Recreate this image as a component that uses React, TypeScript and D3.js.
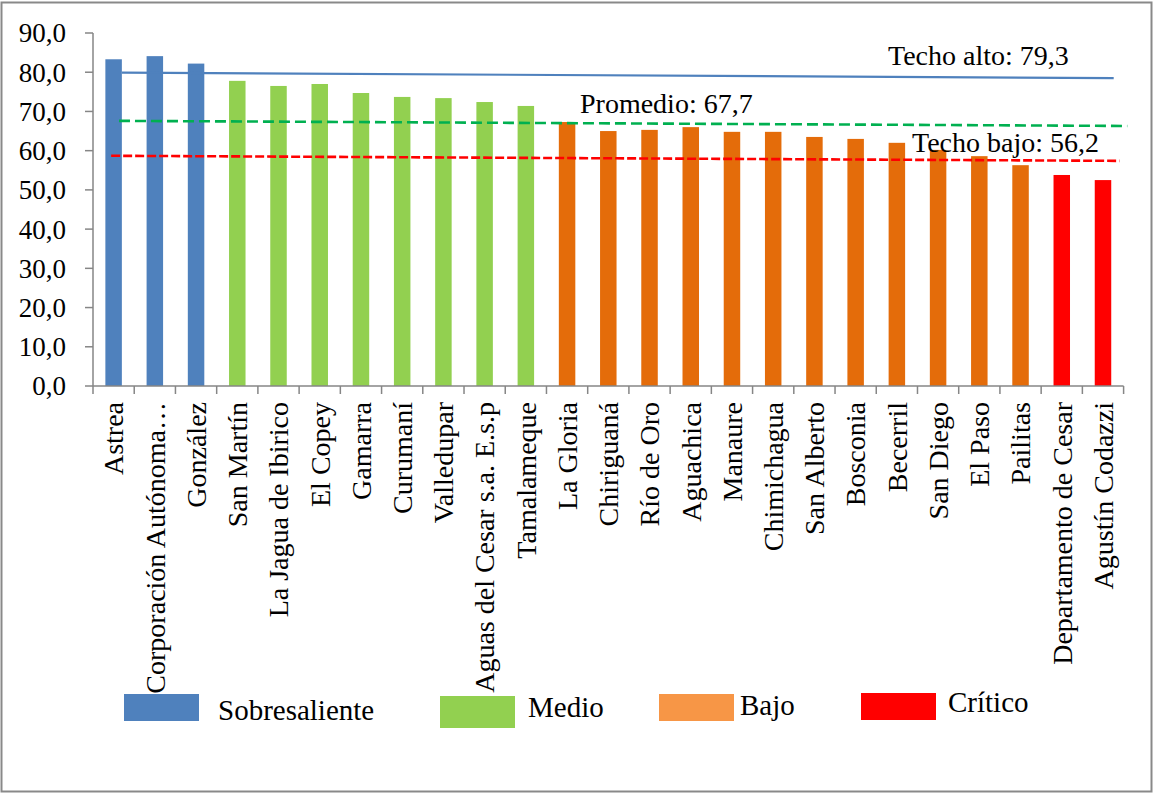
import React from "react";
import * as d3 from "d3";

const categories = [
  "Astrea", "Corporación Autónoma…", "González", "San Martín", "La Jagua de Ibirico",
  "El Copey", "Gamarra", "Curumaní", "Valledupar", "Aguas del Cesar s.a. E.s.p",
  "Tamalameque", "La Gloria", "Chiriguaná", "Río de Oro", "Aguachica", "Manaure",
  "Chimichagua", "San Alberto", "Bosconia", "Becerril", "San Diego", "El Paso",
  "Pailitas", "Departamento de Cesar", "Agustín Codazzi",
];
const values = [
  83.3, 84.1, 82.2, 77.8, 76.5, 77.0, 74.7, 73.7, 73.4, 72.4, 71.4, 67.3, 65.0,
  65.3, 66.0, 64.8, 64.8, 63.5, 63.0, 62.0, 60.2, 58.6, 56.3, 53.8, 52.5,
];
const levels = [
  "Sobresaliente", "Sobresaliente", "Sobresaliente",
  "Medio", "Medio", "Medio", "Medio", "Medio", "Medio", "Medio", "Medio",
  "Bajo", "Bajo", "Bajo", "Bajo", "Bajo", "Bajo", "Bajo", "Bajo", "Bajo", "Bajo", "Bajo", "Bajo",
  "Crítico", "Crítico",
];
const legendNames = ["Sobresaliente", "Medio", "Bajo", "Crítico"];
const barColors = ["#4F81BD", "#92D050", "#E46C0A", "#FF0000"];
const legendColors = ["#4F81BD", "#92D050", "#F79646", "#FF0000"];
const yTicks = [0, 10, 20, 30, 40, 50, 60, 70, 80, 90];

// reference lines: [start index, end index] and [start value, end value]
const refLabels = ["Techo alto: 79,3", "Promedio: 67,7", "Techo bajo: 56,2"];
const refStartIdx = [0.2, 0.13, -0.06];
const refEndIdx = [24.26, 24.59, 24.4];
const refStartVal = [79.9, 67.6, 58.7];
const refEndVal = [78.5, 66.3, 57.4];
const refColors = ["#4F81BD", "#00B050", "#FF0000"];
const refDash = ["", "11 5", "9 3"];
const refWidth = [2.2, 2.6, 2.6];

const W = 1154;
const H = 793;
const FONT = "'Liberation Serif', 'Times New Roman', serif";

export default function App() {
  const left = 93, right = 1123.6, top = 33, bottom = 386;
  const x = d3.scaleBand<string>().domain(categories).range([left, right]).paddingInner(0.6).paddingOuter(0.3);
  const xi = d3.scaleLinear().domain([-0.5, categories.length - 0.5]).range([left, right]);
  const y = d3.scaleLinear().domain([0, 90]).range([bottom, top]);
  const color = d3.scaleOrdinal<string, string>().domain(legendNames).range(barColors);
  const fmt = (v: number) => d3.format(".1f")(v).replace(".", ",");
  const step = x.step();
  const axisColor = "#868686";

  const line = d3.line<[number, number]>().x((d) => xi(d[0])).y((d) => y(d[1]));

  const legendX = [124, 440, 659, 861];
  const legendY = [694, 696, 694, 693];
  const legendTextX = [218, 528, 740, 948];
  const legendTextY = [720, 717, 715, 712];
  const refTextX = [888, 580, 912];
  const refTextY = [65, 113, 152];

  return (
    <svg width={W} height={H} style={{ position: "absolute", left: 0, top: 0, background: "#fff" }} fontFamily={FONT}>
      <rect x={1.5} y={2.5} width={1150} height={789} fill="#fff" stroke="#898989" strokeWidth={2} />
      {/* bars */}
      {categories.map((c, i) => (
        <rect key={c} x={x(c)} y={y(values[i])} width={x.bandwidth()} height={y(0) - y(values[i])} fill={color(levels[i])} />
      ))}
      {/* y axis */}
      <line x1={left} x2={left} y1={top} y2={bottom} stroke={axisColor} strokeWidth={1.5} />
      {yTicks.map((t) => (
        <g key={t}>
          <line x1={left - 8} x2={left} y1={y(t)} y2={y(t)} stroke={axisColor} strokeWidth={1.5} />
          <text x={66} y={y(t)} dy="0.35em" textAnchor="end" fontSize={27} fill="#000">{fmt(t)}</text>
        </g>
      ))}
      {/* x axis */}
      <line x1={left} x2={right} y1={bottom} y2={bottom} stroke={axisColor} strokeWidth={1.5} />
      {d3.range(categories.length + 1).map((k) => (
        <line key={k} x1={left + k * step} x2={left + k * step} y1={bottom} y2={bottom + 8} stroke={axisColor} strokeWidth={1.5} />
      ))}
      {categories.map((c) => {
        const cx = (x(c) as number) + x.bandwidth() / 2;
        return (
          <text key={c} transform={`translate(${cx},402) rotate(-90)`} dy="0.35em" textAnchor="end" fontSize={28} fill="#000">{c}</text>
        );
      })}
      {/* reference lines */}
      {refLabels.map((l, i) => (
        <g key={l}>
          <path d={line([[refStartIdx[i], refStartVal[i]], [refEndIdx[i], refEndVal[i]]]) || ""} stroke={refColors[i]} strokeWidth={refWidth[i]} strokeDasharray={refDash[i] || undefined} fill="none" />
          <text x={refTextX[i]} y={refTextY[i]} fontSize={28} fill="#000">{l}</text>
        </g>
      ))}
      {/* legend */}
      {legendNames.map((n, i) => (
        <g key={n}>
          <rect x={legendX[i]} y={legendY[i]} width={75} height={i === 1 ? 32 : 27} fill={legendColors[i]} />
          <text x={legendTextX[i]} y={legendTextY[i]} fontSize={29} fill="#000">{n}</text>
        </g>
      ))}
    </svg>
  );
}
